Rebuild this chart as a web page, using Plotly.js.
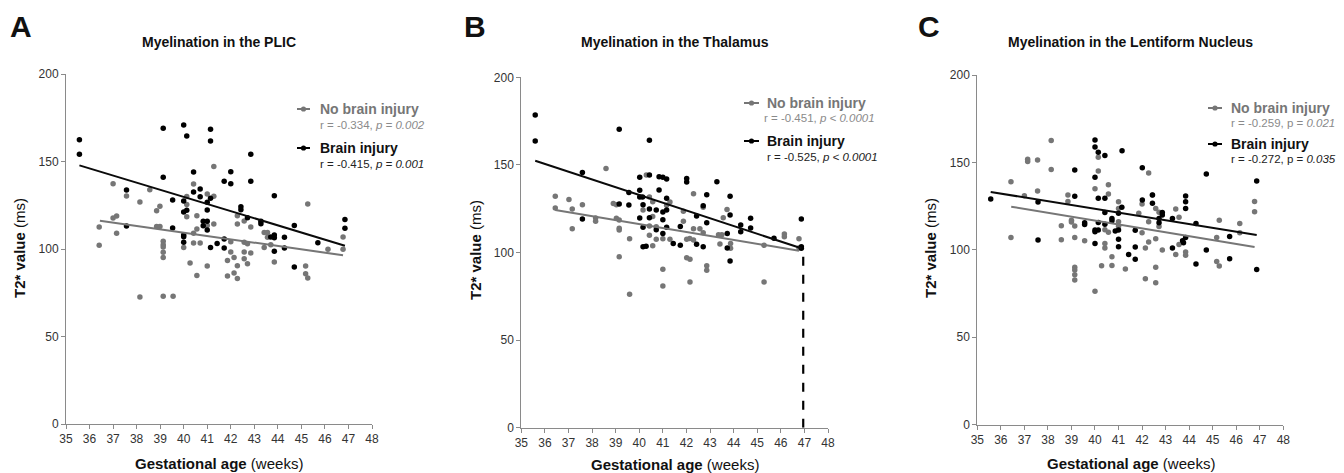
<!DOCTYPE html>
<html>
<head>
<meta charset="utf-8">
<script src="https://cdn.plot.ly/plotly-3.0.1.min.js"></script>
<style>html,body{margin:0;padding:0;background:#fff;}#chart{width:1344px;height:473px;}</style>
</head>
<body>
<div id="chart"></div>
<script>
// ---------- Data ----------
// Panel A: PLIC
const plicNoX = [36.41,36.41,37.0,37.0,37.15,37.15,37.57,38.14,38.14,38.56,38.85,38.99,38.85,38.99,39.13,39.13,39.13,39.13,39.13,39.13,39.55,40.0,40.13,40.13,40.27,40.42,40.42,40.56,40.56,40.56,40.7,41.0,41.0,41.28,41.28,41.28,41.86,41.86,42.0,42.0,42.14,42.14,42.28,42.28,42.28,42.28,42.57,42.57,42.71,42.57,42.57,42.71,42.85,42.85,43.42,43.42,43.56,43.56,43.7,43.85,45.27,45.18,45.18,45.27,46.13,46.77,46.77,40.42,40.13,41.0];
const plicNoY = [112.6,102.1,137.3,117.7,118.9,109.0,130.3,126.9,72.6,133.9,121.9,124.4,112.9,112.9,104.4,102.5,101.1,98.1,95.2,73.0,73.0,100.8,118.5,125.5,92.0,137.1,103.4,119.0,111.4,84.8,103.4,131.4,90.3,147.2,130.1,114.3,84.6,93.5,104.2,98.3,95.2,86.3,83.2,90.5,119.0,114.3,116.0,103.8,103.0,98.3,94.5,91.6,112.6,97.7,100.8,109.5,109.5,106.7,102.5,92.6,125.7,90.3,85.9,83.4,99.8,106.9,99.8,109.0,130.0,113.5];
const plicInjX = [35.57,35.57,39.13,39.13,40.0,40.13,41.14,41.14,37.57,37.57,39.53,39.53,40.0,40.0,40.13,40.0,40.0,40.0,40.42,40.42,40.7,40.7,40.83,40.83,41.0,41.0,41.0,41.0,41.14,41.14,41.42,41.72,42.0,42.0,41.72,41.72,42.43,42.43,42.71,42.85,42.85,43.28,43.28,43.85,43.7,43.85,43.85,43.85,44.28,44.28,44.7,44.7,45.7,46.85,46.85];
const plicInjY = [162.5,154.1,169.0,141.0,170.9,164.6,168.4,161.7,133.7,113.1,128.0,112.0,127.4,121.1,122.1,108.0,107.0,103.8,144.0,132.6,134.3,129.9,115.8,113.3,115.8,110.9,122.3,126.7,129.0,100.8,103.2,138.7,144.2,137.3,105.7,100.6,124.2,122.5,117.9,154.1,138.7,115.8,114.5,130.5,106.9,108.0,106.5,98.7,106.7,100.6,113.5,89.7,103.6,116.8,111.8];
const plicFitNoX = [36.44, 46.77], plicFitNoY = [116.2, 96.4];
const plicFitInjX = [35.57, 46.85], plicFitInjY = [147.8, 101.9];

// Panel B: Thalamus
const thalNoX = [36.44,36.44,37.02,37.16,37.16,37.59,38.15,38.15,38.59,38.9,39.03,39.15,39.15,39.15,39.15,39.03,39.59,39.59,40.16,40.3,40.43,40.43,40.43,40.57,40.57,40.57,40.72,40.72,41.0,41.0,41.0,41.3,41.3,41.87,41.87,42.01,42.01,42.15,42.15,42.3,42.3,42.3,42.57,42.71,42.71,42.86,42.86,43.42,43.56,43.72,43.87,43.87,43.5,43.36,45.29,45.29,46.15,46.15,46.77,46.77,41.16,42.14];
const thalNoY = [132.1,125.4,130.2,124.8,113.6,127.3,119.7,117.8,147.9,128.0,127.3,118.6,113.8,112.8,97.6,119.5,107.9,76.1,124.3,144.2,131.7,115.1,109.8,129.0,120.5,103.9,114.7,107.5,107.9,90.4,80.9,128.8,107.5,123.5,117.8,107.5,97.0,96.1,83.2,133.6,113.6,107.1,113.6,125.8,111.3,92.5,89.8,104.9,119.9,124.6,105.2,102.4,110.2,110.2,104.1,83.2,110.6,109.0,107.9,102.6,127.0,108.0];
const thalInjX = [35.59,35.59,39.15,40.43,37.59,37.59,39.15,39.56,39.56,40.02,40.02,40.02,40.02,40.14,40.16,40.16,40.16,40.43,40.43,40.43,40.72,40.84,40.84,41.0,41.16,41.0,41.16,41.0,41.16,41.16,41.0,41.44,41.74,41.74,42.01,42.01,42.43,42.43,42.71,42.71,42.86,42.86,43.29,43.73,43.85,43.85,43.73,43.85,44.3,44.3,44.72,44.72,45.71,46.87,46.87,46.87,40.29,40.72];
const thalInjY = [178.5,163.7,170.3,164.0,145.6,119.1,127.7,134.2,127.1,142.9,135.5,131.7,119.7,131.7,127.3,114.4,103.3,144.2,124.8,119.9,124.3,135.7,143.3,142.9,142.0,123.1,124.3,118.7,130.9,114.4,110.9,105.2,114.9,104.1,142.2,140.2,120.8,104.7,126.7,103.3,133.0,117.0,140.4,110.9,132.1,121.4,102.6,95.1,115.7,111.9,119.5,114.0,108.1,119.1,103.3,102.4,103.5,113.0];
const thalFitNoX = [36.44, 46.77], thalFitNoY = [124.3, 101.0];
const thalFitInjX = [35.59, 46.87], thalFitInjY = [152.4, 102.4];
const thalDropX = [46.95, 46.95], thalDropY = [0, 102];

// Panel C: Lentiform Nucleus
const lentNoX = [36.43,36.43,37.0,37.14,37.14,37.56,37.56,38.14,38.14,38.57,38.57,38.85,38.85,39.0,39.0,39.14,39.14,39.14,39.14,39.14,39.14,39.56,40.0,40.0,40.14,40.14,40.28,40.42,40.42,40.57,40.57,40.57,40.72,40.72,41.0,41.0,41.0,41.29,41.86,42.0,42.0,42.14,42.14,42.28,42.28,42.28,42.44,42.58,42.58,42.58,42.58,42.72,42.86,43.43,43.43,43.57,43.57,43.85,43.85,45.28,45.17,45.17,45.28,46.15,46.15,46.78,46.78,40.42,41.0,42.72];
const lentNoY = [139.0,107.1,131.0,151.8,150.6,151.4,133.6,162.6,146.0,113.8,105.8,131.4,127.7,117.0,115.9,113.6,107.0,90.0,88.5,85.8,82.7,105.2,135.0,76.3,152.9,145.1,90.9,103.7,101.0,137.3,131.9,110.0,96.1,91.1,127.5,123.7,116.1,89.0,120.9,126.2,109.8,101.0,83.5,143.9,116.1,104.5,131.4,123.7,106.4,90.0,81.2,113.3,99.9,123.4,97.4,118.6,103.1,98.8,96.9,116.9,107.1,93.4,90.8,115.0,109.8,127.7,121.8,111.5,113.5,121.5];
const lentInjX = [35.57,37.58,37.58,39.14,39.14,39.56,39.56,40.0,40.0,40.14,40.42,40.0,40.14,40.42,40.42,40.0,40.14,40.0,40.14,40.0,40.42,40.72,40.72,40.86,41.0,41.14,41.15,41.0,41.0,41.0,41.43,41.71,41.71,41.71,42.01,42.01,42.44,42.44,42.72,42.72,42.86,42.86,43.29,43.29,43.72,43.76,43.85,43.85,43.85,43.85,44.29,44.29,44.73,44.73,45.72,45.72,46.87,46.87];
const lentInjY = [129.1,127.4,105.6,145.7,130.6,114.5,115.5,162.8,158.8,155.8,153.9,141.5,129.5,129.5,121.3,111.3,111.3,110.3,115.7,103.7,114.6,118.0,116.7,110.8,120.9,124.3,156.7,111.3,106.0,101.8,97.4,111.2,101.6,94.6,147.0,128.5,131.4,126.6,118.0,115.5,121.4,120.0,118.0,101.0,105.2,104.0,130.8,127.5,123.7,107.1,115.0,91.9,143.4,99.9,107.7,94.9,139.4,88.8];
const lentFitNoX = [36.44, 46.78], lentFitNoY = [124.7, 101.6];
const lentFitInjX = [35.57, 46.87], lentFitInjY = [133.1, 108.5];

const xTicks = [35,36,37,38,39,40,41,42,43,44,45,46,47,48];
const yTicks = [0,50,100,150,200];

const panelTitles = ['Myelination in the PLIC','Myelination in the Thalamus','Myelination in the Lentiform Nucleus'];
const panelLetters = ['A','B','C'];
const statsNo = ['r = -0.334, <i>p = 0.002</i>','r = -0.451, <i>p &lt; 0.0001</i>','r = -0.259, p = <i>0.021</i>'];
const statsInj = ['r = -0.415, <i>p = 0.001</i>','r = -0.525, <i>p &lt; 0.0001</i>','r = -0.272, p = <i>0.035</i>'];

// ---------- Styling ----------
const GRAY = '#767676';
const BLACK = '#000000';
const FONT = 'Liberation Sans, Arial, Helvetica, sans-serif';
const W = 1344, H = 473;
const px = v => v / W;
const py = v => 1 - v / H;

// plot area pixel boxes [left, right, top, bottom]
const boxes = [[66,372,74,424],[521.3,828,77.3,427.7],[977.3,1283.3,75,424.7]];

const panels = [
  {noX: plicNoX, noY: plicNoY, injX: plicInjX, injY: plicInjY, fnX: plicFitNoX, fnY: plicFitNoY, fiX: plicFitInjX, fiY: plicFitInjY},
  {noX: thalNoX, noY: thalNoY, injX: thalInjX, injY: thalInjY, fnX: thalFitNoX, fnY: thalFitNoY, fiX: thalFitInjX, fiY: thalFitInjY},
  {noX: lentNoX, noY: lentNoY, injX: lentInjX, injY: lentInjY, fnX: lentFitNoX, fnY: lentFitNoY, fiX: lentFitInjX, fiY: lentFitInjY}
];

const traces = [];
const layout = {
  width: W, height: H,
  margin: {l:0, r:0, t:0, b:0},
  paper_bgcolor: '#fff', plot_bgcolor: 'rgba(0,0,0,0)',
  showlegend: false,
  font: {family: FONT, color: '#333'},
  annotations: [], shapes: []
};

panels.forEach((p, i) => {
  const xa = i === 0 ? 'x' : 'x' + (i + 1);
  const ya = i === 0 ? 'y' : 'y' + (i + 1);
  const b = boxes[i];
  const axX = {
    domain: [px(b[0]), px(b[1])], range: [35, 48], anchor: ya,
    tickmode: 'array', tickvals: xTicks, ticktext: xTicks.map(String),
    showgrid: false, zeroline: false, showline: true, linecolor: '#8a8a8a', linewidth: 1,
    ticks: 'outside', ticklen: 4, tickcolor: '#8a8a8a', tickwidth: 1,
    tickfont: {size: 12, color: '#333', family: FONT}, fixedrange: true
  };
  const axY = {
    domain: [py(b[3]), py(b[2])], range: [0, 200], anchor: xa,
    tickmode: 'array', tickvals: yTicks, ticktext: yTicks.map(String),
    showgrid: false, zeroline: false, showline: true, linecolor: '#8a8a8a', linewidth: 1,
    ticks: 'outside', ticklen: 4, tickcolor: '#8a8a8a', tickwidth: 1,
    tickfont: {size: 12, color: '#333', family: FONT}, fixedrange: true
  };
  layout[i === 0 ? 'xaxis' : 'xaxis' + (i + 1)] = axX;
  layout[i === 0 ? 'yaxis' : 'yaxis' + (i + 1)] = axY;

  traces.push({type:'scatter', mode:'markers', x:p.noX, y:p.noY, xaxis:xa, yaxis:ya,
    marker:{size:5.5, color:GRAY}, cliponaxis:false, hoverinfo:'skip'});
  traces.push({type:'scatter', mode:'markers', x:p.injX, y:p.injY, xaxis:xa, yaxis:ya,
    marker:{size:5.5, color:BLACK}, cliponaxis:false, hoverinfo:'skip'});
  traces.push({type:'scatter', mode:'lines', x:p.fnX, y:p.fnY, xaxis:xa, yaxis:ya,
    line:{color:GRAY, width:2}, hoverinfo:'skip'});
  traces.push({type:'scatter', mode:'lines', x:p.fiX, y:p.fiY, xaxis:xa, yaxis:ya,
    line:{color:'#0a0a0a', width:2}, hoverinfo:'skip'});
  if (i === 1) {
    traces.push({type:'scatter', mode:'lines', x:thalDropX, y:thalDropY, xaxis:xa, yaxis:ya,
      line:{color:BLACK, width:2.2, dash:'dash'}, hoverinfo:'skip', cliponaxis:false});
  }
});

// Text annotations
const letterPos = [[21,27],[475,27],[929,27]];
const titlePos = [[219,42],[675,42],[1130,42]];
const yTitlePos = [[19,248],[475,250],[930,248]];
const xTitlePos = [[219,463],[675,464],[1131,463]];
// legend: [lineX0, lineX1, textX, rTextXNo, yNo, yNoStat, yInj, yInjStat]
const legendPos = [
  [297,310,318,318,109,125,148,164],
  [744,759,765,762,103,118,141,157],
  [1208,1222,1229,1229,108,123,144,159]
];

for (let i = 0; i < 3; i++) {
  const A = layout.annotations;
  A.push({text:'<b>'+panelLetters[i]+'</b>', xref:'paper', yref:'paper', x:px(letterPos[i][0]), y:py(letterPos[i][1]),
    xanchor:'center', yanchor:'middle', showarrow:false, font:{size:30, color:'#111', family:FONT}});
  A.push({text:'<b>'+panelTitles[i]+'</b>', xref:'paper', yref:'paper', x:px(titlePos[i][0]), y:py(titlePos[i][1]),
    xanchor:'center', yanchor:'middle', showarrow:false, font:{size:14, color:'#111', family:FONT}});
  A.push({text:'<b>T2* value</b> (ms)', xref:'paper', yref:'paper', x:px(yTitlePos[i][0]), y:py(yTitlePos[i][1]),
    xanchor:'center', yanchor:'middle', textangle:-90, showarrow:false, font:{size:15, color:'#111', family:FONT}});
  A.push({text:'<b>Gestational age</b> (weeks)', xref:'paper', yref:'paper', x:px(xTitlePos[i][0]), y:py(xTitlePos[i][1]),
    xanchor:'center', yanchor:'middle', showarrow:false, font:{size:15, color:'#111', family:FONT}});
  const L = legendPos[i];
  A.push({text:'<b>No brain injury</b>', xref:'paper', yref:'paper', x:px(L[2]), y:py(L[4]),
    xanchor:'left', yanchor:'middle', showarrow:false, font:{size:14, color:GRAY, family:FONT}});
  A.push({text:statsNo[i], xref:'paper', yref:'paper', x:px(L[3]), y:py(L[5]),
    xanchor:'left', yanchor:'middle', showarrow:false, font:{size:11.5, color:'#8a8a8a', family:FONT}});
  A.push({text:'<b>Brain injury</b>', xref:'paper', yref:'paper', x:px(L[2]), y:py(L[6]),
    xanchor:'left', yanchor:'middle', showarrow:false, font:{size:14, color:'#111', family:FONT}});
  A.push({text:statsInj[i], xref:'paper', yref:'paper', x:px(L[2]), y:py(L[7]),
    xanchor:'left', yanchor:'middle', showarrow:false, font:{size:11.5, color:'#222', family:FONT}});
  // legend symbols
  const S = layout.shapes;
  [[L[4], GRAY],[L[6], BLACK]].forEach(([yy, col]) => {
    S.push({type:'line', xref:'paper', yref:'paper', x0:px(L[0]), x1:px(L[1]), y0:py(yy), y1:py(yy),
      line:{color:col, width:2}});
    const cx = (L[0] + L[1]) / 2;
    S.push({type:'circle', xref:'paper', yref:'paper', x0:px(cx-2.6), x1:px(cx+2.6), y0:py(yy+2.6), y1:py(yy-2.6),
      fillcolor:col, line:{color:col, width:0}});
  });
}

Plotly.newPlot('chart', traces, layout, {staticPlot:true, displayModeBar:false});
</script>
</body>
</html>
